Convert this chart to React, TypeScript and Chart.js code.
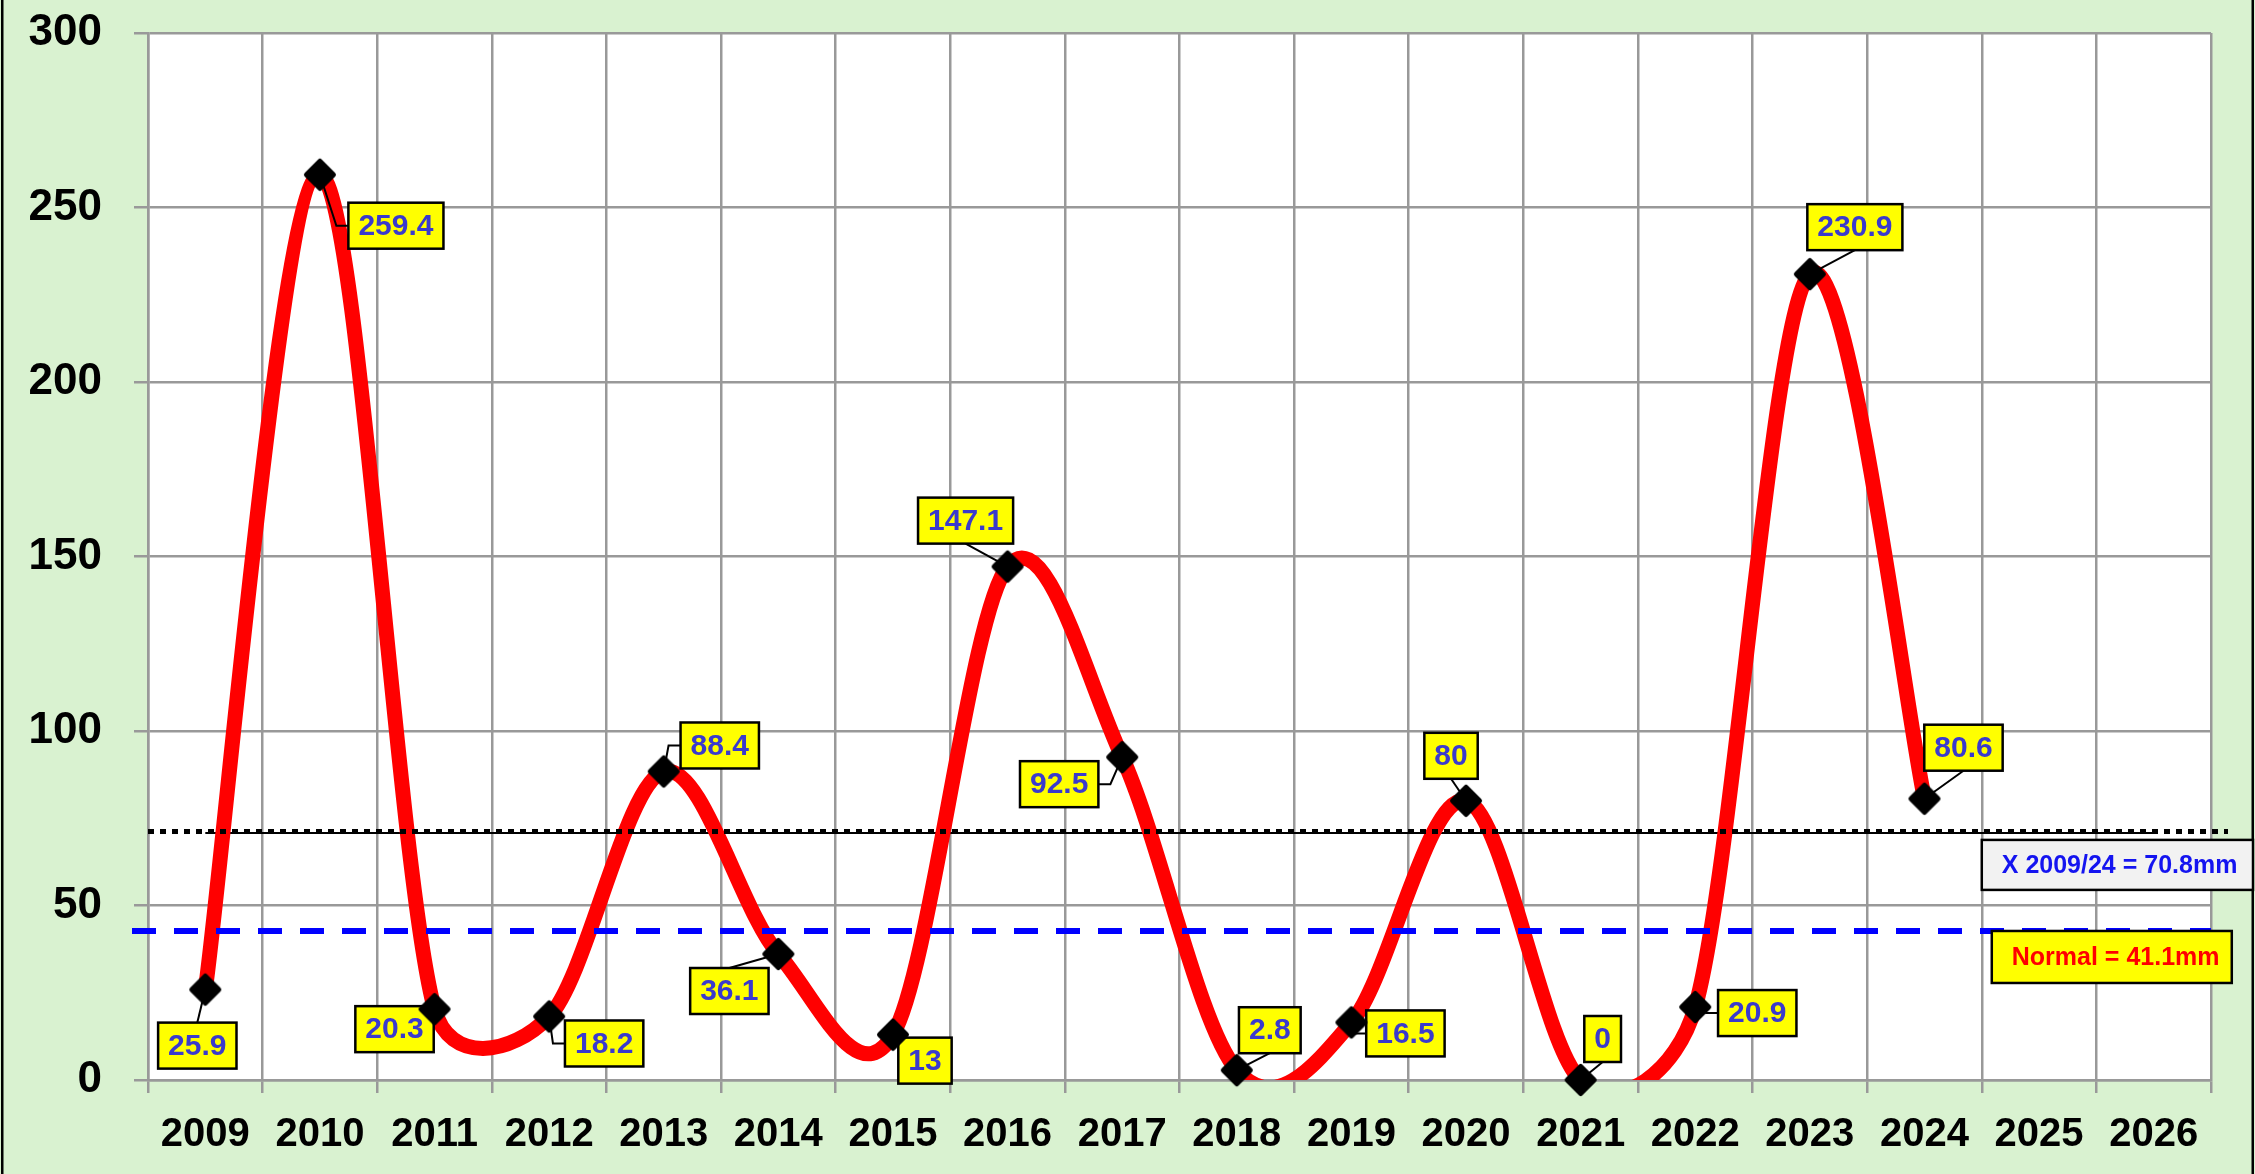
import React, { useEffect, useRef } from 'react';
import { Chart, registerables } from 'chart.js';

Chart.register(...registerables);

// ---------- data ----------
const categories = ['2009', '2010', '2011', '2012', '2013', '2014', '2015', '2016', '2017', '2018', '2019', '2020', '2021', '2022', '2023', '2024', '2025', '2026'];
const rainfall: (number | null)[] = [25.9, 259.4, 20.3, 18.2, 88.4, 36.1, 13, 147.1, 92.5, 2.8, 16.5, 80, 0, 20.9, 230.9, 80.6, null, null];
const meanSeries = [70.8, 70.8, 70.8, 70.8, 70.8, 70.8, 70.8, 70.8, 70.8, 70.8, 70.8, 70.8, 70.8, 70.8, 70.8, 70.8, 70.8, 70.8];
const meanDottedValue = 71.2;
const normalLineValue = 42.7;
const meanText = 'X 2009/24 = 70.8mm';
const normalText = 'Normal = 41.1mm';
const yMin = 0;
const yMax = 300;
const yStep = 50;

// label layout: [dx, dy, leader anchor] relative to the point (pixels)
const labelLayout: [number, number, string][] = [
  [-8, 56, 't'],
  [76, 51, 'l'],
  [-40, 20, 'n'],
  [55, 27, 'l'],
  [56, -26, 'l'],
  [-49, 37, 't'],
  [32, 26, 'n'],
  [-42, -46, 'b'],
  [-63, 27, 'r'],
  [33, -40, 'b'],
  [54, 11, 'l'],
  [-15, -45, 'b'],
  [22, -41, 'b'],
  [62, 6, 'l'],
  [45, -47, 'b'],
  [39, -51, 'b'],
];

const FONT = "'Liberation Sans', Arial, Helvetica, sans-serif";
const LINE_INDEX = 1;

function makeDiamond(): HTMLCanvasElement {
  const c = document.createElement('canvas');
  c.width = 38;
  c.height = 38;
  const g = c.getContext('2d')!;
  g.fillStyle = '#000';
  g.strokeStyle = '#000';
  g.lineWidth = 5;
  g.lineJoin = 'round';
  g.beginPath();
  g.moveTo(19, 5.5);
  g.lineTo(32.5, 19);
  g.lineTo(19, 32.5);
  g.lineTo(5.5, 19);
  g.closePath();
  g.fill();
  g.stroke();
  return c;
}

// Spreadsheet-style smoothing: Catmull-Rom arms (1/6) clamped to half the segment length
function applySmoothing(points: any[]) {
  const pts = points.filter((p) => !p.skip);
  const n = pts.length;
  for (let i = 0; i < n; i++) {
    const p = pts[i];
    const prev = i > 0 ? pts[i - 1] : p;
    const next = i < n - 1 ? pts[i + 1] : p;
    const ax = (next.x - prev.x) / 6;
    const ay = (next.y - prev.y) / 6;
    const alen = Math.hypot(ax, ay);
    const dOut = Math.hypot(next.x - p.x, next.y - p.y);
    let sOut = 1;
    if (alen > 0 && alen > dOut / 2) sOut = dOut / 2 / alen;
    p.cp2x = p.x + ax * sOut;
    p.cp2y = p.y + ay * sOut;
    const dIn = Math.hypot(p.x - prev.x, p.y - prev.y);
    let sIn = 1;
    if (alen > 0 && alen > dIn / 2) sIn = dIn / 2 / alen;
    p.cp1x = p.x - ax * sIn;
    p.cp1y = p.y - ay * sIn;
  }
}

const decorPlugin = {
  id: 'decor',
  beforeDraw(chart: any) {
    const { ctx, chartArea: a, width, height } = chart;
    ctx.save();
    ctx.fillStyle = '#d9f2d0';
    ctx.fillRect(0, 0, width, height);
    ctx.fillStyle = '#ffffff';
    ctx.fillRect(a.left, a.top, a.right - a.left, a.bottom - a.top);
    ctx.restore();
  },
  beforeDatasetDraw(chart: any, args: any) {
    if (args.index !== LINE_INDEX) return;
    const meta = chart.getDatasetMeta(LINE_INDEX);
    if (meta.dataset && meta.dataset.updateControlPoints) {
      meta.dataset.updateControlPoints(chart.chartArea, 'x');
    }
    applySmoothing(meta.data);
    if (meta.dataset) meta.dataset._path = undefined;
  },
  afterDatasetDraw(chart: any, args: any) {
    if (args.index !== LINE_INDEX) return;
    const { ctx, chartArea: a } = chart;
    const ys = chart.scales.y;
    ctx.save();
    // reference lines
    ctx.lineCap = 'butt';
    ctx.strokeStyle = '#0000ff';
    ctx.lineWidth = 6;
    ctx.setLineDash([24, 18]);
    const yn = ys.getPixelForValue(normalLineValue);
    ctx.beginPath();
    ctx.moveTo(a.left - 16, yn);
    ctx.lineTo(a.right, yn);
    ctx.stroke();

    ctx.strokeStyle = '#000000';
    ctx.lineWidth = 5;
    ctx.setLineDash([6, 6]);
    const ym = ys.getPixelForValue(meanDottedValue);
    ctx.beginPath();
    ctx.moveTo(a.left, ym);
    ctx.lineTo(a.right + 17, ym);
    ctx.stroke();
    ctx.setLineDash([]);

    // data labels
    const meta = chart.getDatasetMeta(LINE_INDEX);
    ctx.font = `bold 30px ${FONT}`;
    ctx.textAlign = 'center';
    ctx.textBaseline = 'middle';
    meta.data.forEach((pt: any, i: number) => {
      const v = rainfall[i];
      if (v === null || v === undefined) return;
      const lay = labelLayout[i];
      if (!lay) return;
      const text = String(v);
      const tw = ctx.measureText(text).width;
      const w = tw + 20;
      const h = 46;
      const px = pt.x;
      const py = pt.y;
      const cx = px + lay[0];
      const cy = py + lay[1];
      const bx0 = cx - w / 2;
      const bx1 = cx + w / 2;
      const by0 = cy - h / 2;
      const by1 = cy + h / 2;
      ctx.strokeStyle = '#000';
      ctx.lineWidth = 2;
      ctx.beginPath();
      if (lay[2] === 'b') {
        ctx.moveTo(px, py);
        ctx.lineTo(cx, by1);
      } else if (lay[2] === 't') {
        ctx.moveTo(px, py);
        ctx.lineTo(cx, by0);
      } else if (lay[2] === 'l') {
        ctx.moveTo(px, py);
        ctx.lineTo(bx0 - 12, cy);
        ctx.lineTo(bx0, cy);
      } else if (lay[2] === 'r') {
        ctx.moveTo(px, py);
        ctx.lineTo(bx1 + 12, cy);
        ctx.lineTo(bx1, cy);
      }
      ctx.stroke();
      ctx.fillStyle = '#ffff00';
      ctx.fillRect(bx0, by0, w, h);
      ctx.lineWidth = 2.5;
      ctx.strokeRect(bx0, by0, w, h);
      ctx.fillStyle = '#3a3acd';
      ctx.fillText(text, cx, cy + 1);
    });
    ctx.restore();
  },
  afterDraw(chart: any) {
    const { ctx, chartArea: a, width, height } = chart;
    const ys = chart.scales.y;
    const catW = (a.right - a.left) / categories.length;
    ctx.save();
    // side borders
    ctx.fillStyle = '#000';
    ctx.fillRect(1, 0, 2.5, height);
    ctx.fillRect(width - 3.5, 0, 2.5, height);

    // mean annotation
    const b1l = a.left + 16 * catW;
    const b1t = ys.getPixelForValue(meanSeries[0]) + 7;
    const b1w = width - 2 - b1l;
    const b1h = 50;
    ctx.fillStyle = '#f2f2f2';
    ctx.fillRect(b1l, b1t, b1w, b1h);
    ctx.strokeStyle = '#000';
    ctx.lineWidth = 2.5;
    ctx.strokeRect(b1l, b1t, b1w, b1h);
    ctx.font = `bold 25px ${FONT}`;
    ctx.textAlign = 'left';
    ctx.textBaseline = 'middle';
    ctx.fillStyle = '#1414f0';
    ctx.fillText(meanText, b1l + 20, b1t + b1h / 2 + 1);

    // normal annotation
    const b2l = b1l + 10;
    const b2t = ys.getPixelForValue(normalLineValue);
    const b2w = 240;
    const b2h = 52;
    ctx.fillStyle = '#ffff00';
    ctx.fillRect(b2l, b2t, b2w, b2h);
    ctx.strokeRect(b2l, b2t, b2w, b2h);
    ctx.fillStyle = '#ff0000';
    ctx.fillText(normalText, b2l + 20, b2t + b2h / 2 + 1);
    ctx.restore();
  },
};

export default function App() {
  const ref = useRef<HTMLCanvasElement | null>(null);

  useEffect(() => {
    if (!ref.current) return;
    const diamond = makeDiamond();
    const chart = new Chart(ref.current, {
      type: 'line',
      data: {
        labels: categories,
        datasets: [
          {
            label: 'markers',
            data: rainfall,
            showLine: false,
            pointStyle: diamond as any,
            pointRadius: 16,
            pointHoverRadius: 16,
            borderColor: '#000',
            backgroundColor: '#000',
            clip: false as any,
            order: 0,
          },
          {
            label: 'rain',
            data: rainfall,
            borderColor: '#ff0000',
            borderWidth: 15,
            tension: 0.4,
            capBezierPoints: false,
            pointRadius: 0,
            pointHoverRadius: 0,
            borderCapStyle: 'round',
            borderJoinStyle: 'round',
            fill: false,
            clip: 0 as any,
            order: 1,
          },
          {
            label: 'mean',
            data: meanSeries,
            borderColor: '#000',
            borderWidth: 2,
            pointRadius: 0,
            pointHoverRadius: 0,
            tension: 0,
            fill: false,
            order: 2,
          },
        ],
      },
      options: {
        animation: false,
        responsive: false,
        devicePixelRatio: 1,
        layout: { padding: { top: 33, right: 44, left: 0, bottom: 0 } },
        plugins: {
          legend: { display: false },
          tooltip: { enabled: false },
          title: { display: false },
        },
        scales: {
          x: {
            type: 'category',
            offset: true,
            grid: {
              offset: true,
              color: '#999999',
              lineWidth: 2.5,
              tickLength: 13,
              drawTicks: true,
            },
            border: { color: '#999999', width: 2.5 },
            ticks: {
              color: '#000',
              font: { family: FONT, size: 40, weight: 'bold' },
              padding: 18,
              maxRotation: 0,
              minRotation: 0,
              autoSkip: false,
            },
            afterFit: (scale: any) => {
              scale.height = 94;
              scale.paddingLeft = 0;
              scale.paddingRight = 0;
            },
          },
          y: {
            min: yMin,
            max: yMax,
            grid: {
              color: '#999999',
              lineWidth: 2.5,
              tickLength: 14,
            },
            border: { color: '#999999', width: 2.5 },
            ticks: {
              stepSize: yStep,
              color: '#000',
              font: { family: FONT, size: 44, weight: 'bold' },
              padding: 32,
            },
            afterFit: (scale: any) => {
              scale.width = 148;
              scale.paddingTop = 0;
              scale.paddingBottom = 0;
            },
          },
        },
      },
      plugins: [decorPlugin],
    });
    return () => chart.destroy();
  }, []);

  return (
    <div style={{ position: 'fixed', left: 0, top: 0, width: 2255, height: 1174 }}>
      <canvas ref={ref} width={2255} height={1174} style={{ width: 2255, height: 1174, display: 'block' }} />
    </div>
  );
}
